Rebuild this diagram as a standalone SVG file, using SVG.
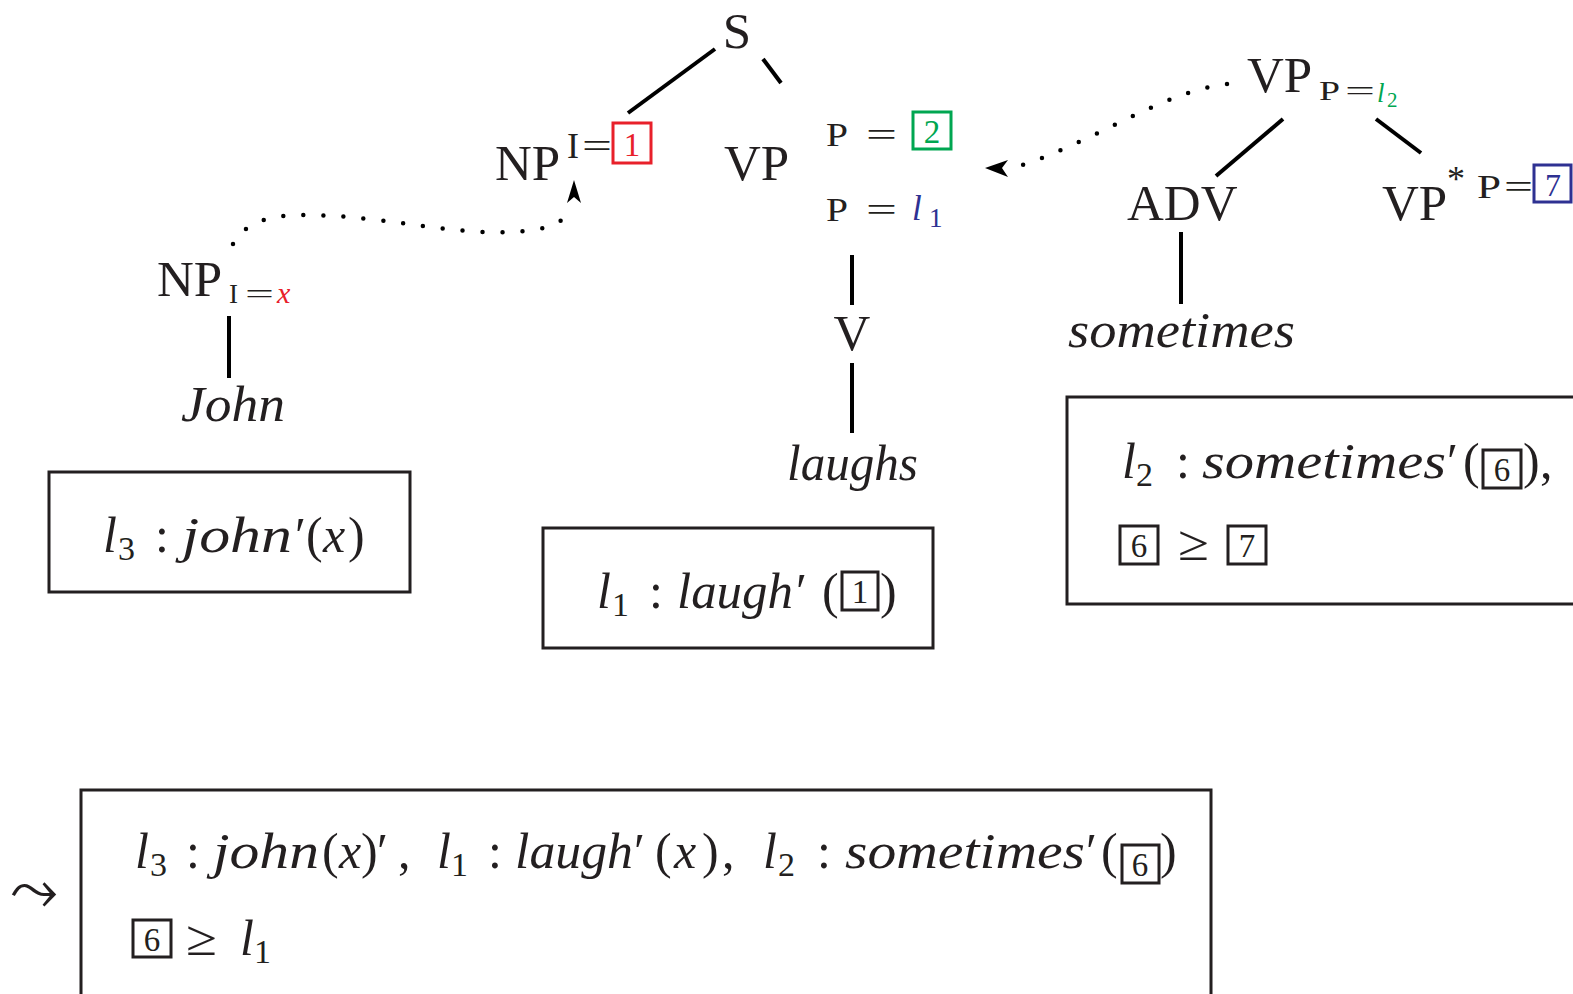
<svg xmlns="http://www.w3.org/2000/svg" width="1573" height="994" viewBox="0 0 1573 994">
<style>
text { font-family: "Liberation Serif", "Times New Roman", serif; fill: #231f20; }
.L { font-size: 51px; }
.F { font-size: 50px; }
.it { font-style: italic; }
.sub { font-size: 34px; }
.edge { stroke: #000; stroke-width: 4; fill: none; }
.dot { stroke: #000; stroke-width: 4.5; fill: none; stroke-linecap: round; stroke-dasharray: 0 20; }
.box { stroke: #231f20; stroke-width: 3; fill: none; }
.tag { stroke-width: 3; fill: none; }
.head { fill: #000; }
</style>
<rect width="1573" height="994" fill="#fff"/>

<g id="connectors">
  <line class="edge" x1="715" y1="49" x2="628" y2="113"/>
  <line class="edge" x1="763" y1="59" x2="781" y2="83"/>
  <line class="edge" x1="852" y1="255" x2="852" y2="305"/>
  <line class="edge" x1="852" y1="363" x2="852" y2="433"/>
  <line class="edge" x1="229" y1="316" x2="229" y2="378"/>
  <line class="edge" x1="1283" y1="119" x2="1216" y2="176"/>
  <line class="edge" x1="1376" y1="119" x2="1421" y2="153"/>
  <line class="edge" x1="1181" y1="232" x2="1181" y2="304"/>
  <path class="dot" d="M233,244 C245,222 270,215 305,215 C380,215 450,235 510,232 C540,231 560,226 568,213"/>
  <path class="head" d="M574,180 L581,203 L574,197 L567,203 Z"/>
  <path class="dot" d="M1227,84 C1160,92 1090,145 1013,168"/>
  <path class="head" d="M985,168 L1008,160 L1002,168 L1008,177 Z"/>
</g>

<g id="node-S">
  <text class="L" x="737" y="48" text-anchor="middle">S</text>
</g>

<g id="node-NP-top">
  <text class="L" x="495" y="180">NP</text>
  <text x="567" y="158" font-size="36">I</text>
  <text x="582" y="158" font-size="36" textLength="30" lengthAdjust="spacingAndGlyphs">=</text>
  <rect class="tag" stroke="#e8202a" x="613" y="123" width="38" height="40"/>
  <text x="632" y="156" font-size="33" text-anchor="middle" style="fill:#e8202a">1</text>
</g>

<g id="node-VP-mid">
  <text class="L" x="724" y="180">VP</text>
  <text x="826" y="146" font-size="34" textLength="22" lengthAdjust="spacingAndGlyphs">P</text>
  <text x="866" y="146" font-size="34" textLength="31" lengthAdjust="spacingAndGlyphs">=</text>
  <rect class="tag" stroke="#00a651" x="913" y="112" width="38" height="37"/>
  <text x="932" y="143" font-size="33" text-anchor="middle" style="fill:#00a651">2</text>
  <text x="826" y="221" font-size="34" textLength="22" lengthAdjust="spacingAndGlyphs">P</text>
  <text x="866" y="221" font-size="34" textLength="31" lengthAdjust="spacingAndGlyphs">=</text>
  <text class="it" x="912" y="220" font-size="35" style="fill:#2e3192">l</text>
  <text x="929" y="227" font-size="27" style="fill:#2e3192">1</text>
</g>

<g id="node-V">
  <text class="L" x="852" y="350" text-anchor="middle">V</text>
</g>

<g id="node-laughs">
  <text class="L it" x="787" y="480" textLength="131" lengthAdjust="spacingAndGlyphs">laughs</text>
</g>

<g id="node-NP-left">
  <text class="L" x="157" y="296">NP</text>
  <text x="229" y="303" font-size="27">I</text>
  <text x="245" y="303" font-size="27" textLength="29" lengthAdjust="spacingAndGlyphs">=</text>
  <text class="it" x="277" y="303" font-size="30" style="fill:#e8202a">x</text>
</g>

<g id="node-John">
  <text class="L it" x="181" y="421" textLength="104" lengthAdjust="spacingAndGlyphs">John</text>
</g>

<g id="node-VP-aux">
  <text class="L" x="1247" y="92">VP</text>
  <text x="1319" y="100" font-size="27" textLength="21" lengthAdjust="spacingAndGlyphs">P</text>
  <text x="1345" y="100" font-size="27" textLength="30" lengthAdjust="spacingAndGlyphs">=</text>
  <text class="it" x="1377" y="102" font-size="27" style="fill:#00a651">l</text>
  <text x="1387" y="107" font-size="21" style="fill:#00a651">2</text>
</g>

<g id="node-ADV">
  <text class="L" x="1127" y="220">ADV</text>
</g>

<g id="node-VP-foot">
  <text class="L" x="1382" y="220">VP</text>
  <text x="1447" y="191" font-size="36">*</text>
  <text x="1477" y="198" font-size="34" textLength="24" lengthAdjust="spacingAndGlyphs">P</text>
  <text x="1504" y="198" font-size="34" textLength="29" lengthAdjust="spacingAndGlyphs">=</text>
  <rect class="tag" stroke="#2e3192" x="1534" y="165" width="37" height="37"/>
  <text x="1553" y="196" font-size="32" text-anchor="middle" style="fill:#2e3192">7</text>
</g>

<g id="node-sometimes">
  <text class="L it" x="1068" y="347" textLength="227" lengthAdjust="spacingAndGlyphs">sometimes</text>
</g>

<g id="sem-john">
  <rect class="box" x="49" y="472" width="361" height="120"/>
  <text class="F it" x="103" y="552">l</text>
  <text class="sub" x="118" y="560">3</text>
  <text class="F" x="155" y="552">:</text>
  <text class="F it" x="182" y="552" textLength="110" lengthAdjust="spacingAndGlyphs">john</text>
  <text class="F" x="295" y="552">′</text>
  <text class="F" x="306" y="552">(</text>
  <text class="F it" x="323" y="552">x</text>
  <text class="F" x="348" y="552">)</text>
</g>

<g id="sem-laugh">
  <rect class="box" x="543" y="528" width="390" height="120"/>
  <text class="F it" x="597" y="608">l</text>
  <text class="sub" x="612" y="616">1</text>
  <text class="F" x="649" y="608">:</text>
  <text class="F it" x="677" y="608" textLength="116" lengthAdjust="spacingAndGlyphs">laugh</text>
  <text class="F" x="796" y="608">′</text>
  <text class="F" x="822" y="608">(</text>
  <rect class="box" x="842" y="572" width="36" height="38"/>
  <text x="860" y="603" font-size="33" text-anchor="middle">1</text>
  <text class="F" x="880" y="608">)</text>
</g>

<g id="sem-sometimes">
  <rect class="box" x="1067" y="397" width="600" height="207"/>
  <text class="F it" x="1122" y="478">l</text>
  <text class="sub" x="1136" y="486">2</text>
  <text class="F" x="1176" y="478">:</text>
  <text class="F it" x="1202" y="478" textLength="244" lengthAdjust="spacingAndGlyphs">sometimes</text>
  <text class="F" x="1447" y="478">′</text>
  <text class="F" x="1463" y="478">(</text>
  <rect class="box" x="1483" y="450" width="38" height="38"/>
  <text x="1502" y="481" font-size="33" text-anchor="middle">6</text>
  <text class="F" x="1523" y="478">)</text>
  <text class="F" x="1540" y="478">,</text>
  <rect class="box" x="1120" y="526" width="38" height="38"/>
  <text x="1139" y="557" font-size="33" text-anchor="middle">6</text>
  <text class="F" x="1178" y="560" textLength="31" lengthAdjust="spacingAndGlyphs">≥</text>
  <rect class="box" x="1228" y="526" width="38" height="38"/>
  <text x="1247" y="557" font-size="33" text-anchor="middle">7</text>
</g>

<g id="leadsto">
  <text x="10" y="910" font-size="60" style="font-family:'DejaVu Sans',sans-serif">⤳</text>
</g>

<g id="result">
  <rect class="box" x="81" y="790" width="1130" height="300"/>
  <text class="F it" x="135" y="868">l</text>
  <text class="sub" x="150" y="876">3</text>
  <text class="F" x="186" y="868">:</text>
  <text class="F it" x="213" y="868" textLength="106" lengthAdjust="spacingAndGlyphs">john</text>
  <text class="F" x="322" y="868">(</text>
  <text class="F it" x="339" y="868">x</text>
  <text class="F" x="361" y="868">)</text>
  <text class="F" x="377" y="868">′</text>
  <text class="F" x="398" y="868">,</text>
  <text class="F it" x="437" y="868">l</text>
  <text class="sub" x="451" y="876">1</text>
  <text class="F" x="488" y="868">:</text>
  <text class="F it" x="515" y="868" textLength="118" lengthAdjust="spacingAndGlyphs">laugh</text>
  <text class="F" x="634" y="868">′</text>
  <text class="F" x="655" y="868">(</text>
  <text class="F it" x="674" y="868">x</text>
  <text class="F" x="702" y="868">)</text>
  <text class="F" x="722" y="868">,</text>
  <text class="F it" x="763" y="868">l</text>
  <text class="sub" x="778" y="876">2</text>
  <text class="F" x="817" y="868">:</text>
  <text class="F it" x="845" y="868" textLength="240" lengthAdjust="spacingAndGlyphs">sometimes</text>
  <text class="F" x="1086" y="868">′</text>
  <text class="F" x="1101" y="868">(</text>
  <rect class="box" x="1122" y="845" width="37" height="38"/>
  <text x="1140" y="876" font-size="33" text-anchor="middle">6</text>
  <text class="F" x="1160" y="868">)</text>
  <rect class="box" x="133" y="920" width="38" height="37"/>
  <text x="152" y="951" font-size="33" text-anchor="middle">6</text>
  <text class="F" x="186" y="955" textLength="31" lengthAdjust="spacingAndGlyphs">≥</text>
  <text class="F it" x="240" y="955">l</text>
  <text class="sub" x="254" y="963">1</text>
</g>
</svg>
